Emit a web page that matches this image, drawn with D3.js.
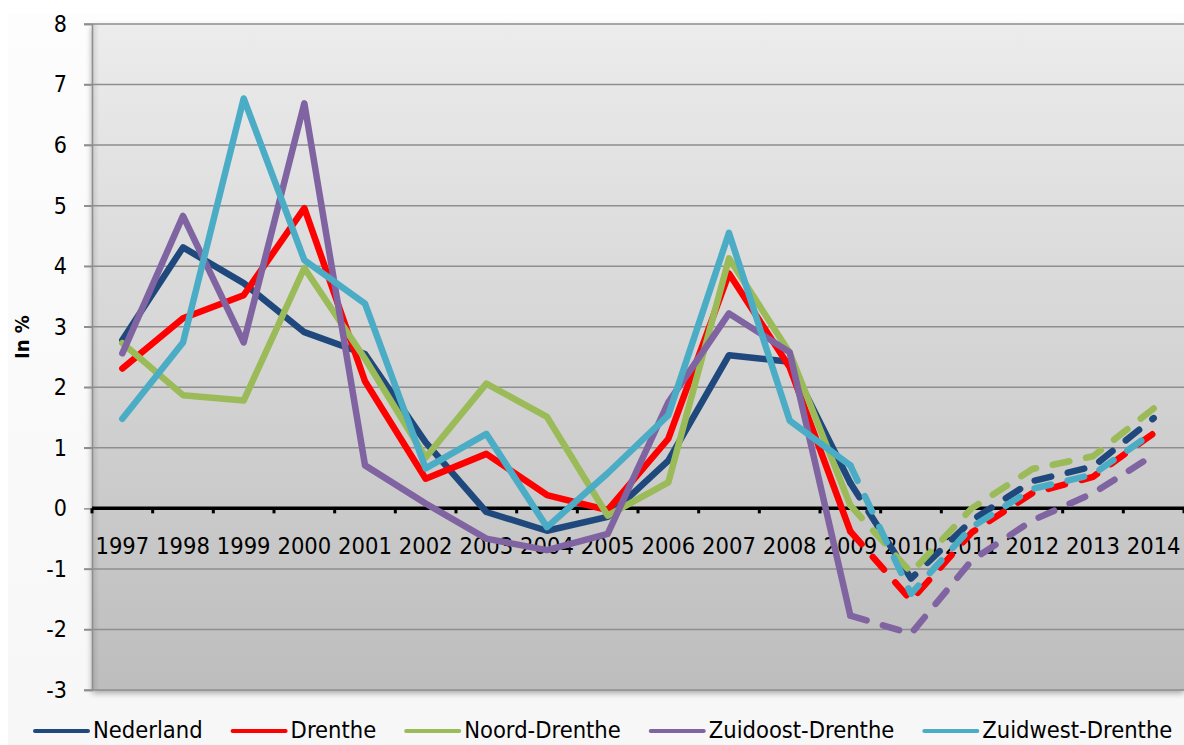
<!DOCTYPE html>
<html>
<head>
<meta charset="utf-8">
<script src="https://cdn.jsdelivr.net/npm/d3@7"></script>
<style>
  html, body { margin: 0; padding: 0; background: #fff; }
  svg { display: block; font-family: "DejaVu Sans Condensed", "DejaVu Sans", sans-serif; }
</style>
</head>
<body>
<svg id="chart"></svg>
<script>
// jaren op de x-as
const years = ["1997", "1998", "1999", "2000", "2001", "2002", "2003", "2004", "2005",
  "2006", "2007", "2008", "2009", "2010", "2011", "2012", "2013", "2014"];
// vanaf dit jaar wordt de lijn gestippeld (prognose)
const forecastFrom = "2009";

const nederland = [2.78, 4.31, 3.72, 2.91, 2.55, 1.09, -0.06, -0.37, -0.14, 0.79, 2.53, 2.42, 0.42, -1.16, -0.2, 0.45, 0.69, 1.49];
const drenthe = [2.31, 3.14, 3.52, 4.96, 2.1, 0.49, 0.9, 0.22, -0.03, 1.15, 3.88, 2.33, -0.38, -1.52, -0.4, 0.25, 0.52, 1.24];
const noordDrenthe = [2.73, 1.87, 1.78, 3.97, 2.47, 0.84, 2.06, 1.51, -0.12, 0.43, 4.13, 2.57, 0.05, -1.06, 0.0, 0.65, 0.86, 1.65];
const zuidoostDrenthe = [2.56, 4.83, 2.74, 6.69, 0.71, 0.08, -0.5, -0.69, -0.42, 1.75, 3.22, 2.58, -1.77, -2.07, -0.86, -0.2, 0.25, 0.88];
const zuidwestDrenthe = [1.48, 2.74, 6.77, 4.1, 3.38, 0.66, 1.23, -0.31, 0.58, 1.54, 4.55, 1.45, 0.71, -1.41, -0.31, 0.32, 0.56, 1.26];

const seriesNames = ["Nederland", "Drenthe", "Noord-Drenthe", "Zuidoost-Drenthe", "Zuidwest-Drenthe"];
const seriesValues = [nederland, drenthe, noordDrenthe, zuidoostDrenthe, zuidwestDrenthe];
const seriesColors = ["#1f497d", "#ff0000", "#9bbb59", "#8064a2", "#4bacc6"];

const yTicks = [-3, -2, -1, 0, 1, 2, 3, 4, 5, 6, 7, 8];

const width = 1184, height = 745;
const margin = {top: 24, right: 0, bottom: 55, left: 92};
const font = "'DejaVu Sans Condensed', 'DejaVu Sans', sans-serif";

const svg = d3.select("#chart")
  .attr("width", width)
  .attr("height", height);

const defs = svg.append("defs");
const bg = defs.append("linearGradient")
  .attr("id", "plotbg").attr("x1", 0).attr("y1", 0).attr("x2", 0).attr("y2", 1);
bg.append("stop").attr("offset", "0%").attr("stop-color", "#ececec");
bg.append("stop").attr("offset", "100%").attr("stop-color", "#bdbdbd");

const leftShade = defs.append("linearGradient")
  .attr("id", "leftshade").attr("x1", 0).attr("y1", 0).attr("x2", 1).attr("y2", 0);
leftShade.append("stop").attr("offset", "0%").attr("stop-color", "#000").attr("stop-opacity", 0.12);
leftShade.append("stop").attr("offset", "100%").attr("stop-color", "#000").attr("stop-opacity", 0);

const outerBg = defs.append("linearGradient")
  .attr("id", "outerbg").attr("x1", 0).attr("y1", 0).attr("x2", 0).attr("y2", 1);
outerBg.append("stop").attr("offset", "0%").attr("stop-color", "#fdfdfd");
outerBg.append("stop").attr("offset", "100%").attr("stop-color", "#f7f7f7");

const shadow = defs.append("filter").attr("id", "shadow")
  .attr("x", "-5%").attr("y", "-5%").attr("width", "110%").attr("height", "110%");
shadow.append("feDropShadow")
  .attr("dx", 0).attr("dy", 3).attr("stdDeviation", 3)
  .attr("flood-color", "#000").attr("flood-opacity", 0.35);

svg.append("rect")
  .attr("x", 8).attr("y", 14).attr("width", width - 8).attr("height", height - 14)
  .attr("fill", "url(#outerbg)");

const x = d3.scaleBand()
  .domain(years)
  .range([margin.left, width - margin.right])
  .padding(0);

const y = d3.scaleLinear()
  .domain([-3, 8])
  .range([height - margin.bottom, margin.top]);

const cx = d => x(d) + x.bandwidth() / 2;

// plotvlak
svg.append("rect")
  .attr("x", margin.left)
  .attr("y", y(8))
  .attr("width", width - margin.left - margin.right)
  .attr("height", y(-3) - y(8))
  .attr("fill", "url(#plotbg)")
  .attr("filter", "url(#shadow)");

svg.append("rect")
  .attr("x", margin.left)
  .attr("y", y(8))
  .attr("width", 7)
  .attr("height", y(-3) - y(8))
  .attr("fill", "url(#leftshade)");

// rasterlijnen
svg.append("g")
  .selectAll("line")
  .data(yTicks.filter(d => d !== 0))
  .join("line")
  .attr("x1", margin.left - 8)
  .attr("x2", width - margin.right)
  .attr("y1", d => y(d))
  .attr("y2", d => y(d))
  .attr("stroke", "#8e8e8e")
  .attr("stroke-width", 1.5);

// y-as
svg.append("g")
  .attr("transform", `translate(${margin.left},0)`)
  .call(d3.axisLeft(y).tickValues(yTicks).tickSize(8).tickPadding(17).tickFormat(d => String(d)))
  .call(g => g.select(".domain").attr("stroke", "#8e8e8e").attr("stroke-width", 1.5))
  .call(g => g.selectAll(".tick line").attr("stroke", "#8e8e8e").attr("stroke-width", 1.5))
  .call(g => g.selectAll(".tick text")
    .attr("font-size", 23)
    .attr("fill", "#000")
    .attr("font-family", font));

svg.append("text")
  .attr("transform", `translate(29,${(y(8) + y(-3)) / 2 - 20}) rotate(-90)`)
  .attr("text-anchor", "middle")
  .attr("font-size", 20)
  .attr("font-weight", "bold")
  .text("In %");

// nul-lijn met jaartallen
svg.append("g")
  .attr("transform", `translate(0,${y(0)})`)
  .call(d3.axisBottom(x).tickSize(0).tickPadding(29))
  .call(g => g.select(".domain").remove())
  .call(g => g.selectAll(".tick text")
    .attr("font-size", 23.5)
    .attr("fill", "#000")
    .attr("font-family", font));

svg.append("g")
  .selectAll("line")
  .data(d3.range(years.length + 1))
  .join("line")
  .attr("x1", i => margin.left + i * x.step())
  .attr("x2", i => margin.left + i * x.step())
  .attr("y1", y(0))
  .attr("y2", y(0) + 5)
  .attr("stroke", "#000")
  .attr("stroke-width", 3);

svg.append("line")
  .attr("x1", margin.left)
  .attr("x2", width - margin.right)
  .attr("y1", y(0))
  .attr("y2", y(0))
  .attr("stroke", "#000")
  .attr("stroke-width", 3.5);

// lijnen: doorgetrokken tot forecastFrom, daarna gestippeld
const line = d3.line()
  .x(d => cx(d.year))
  .y(d => y(d.value));

const split = years.indexOf(forecastFrom);

const lines = svg.append("g")
  .attr("fill", "none")
  .attr("stroke-width", 6.5)
  .attr("stroke-linejoin", "round")
  .attr("stroke-linecap", "round");

seriesNames.forEach((name, i) => {
  const pts = years.map((year, j) => ({year, value: seriesValues[i][j]}));
  const g = lines.append("g").attr("stroke", seriesColors[i]);
  g.append("path").attr("d", line(pts.slice(0, split + 1)));
  g.append("path")
    .attr("d", line(pts.slice(split)))
    .attr("stroke-dasharray", "17,17");
});

// legenda
const legend = svg.append("g")
  .attr("font-size", 23.5)
  .attr("font-family", font);

let lx = 35;
const ly = 731;
seriesNames.forEach((name, i) => {
  legend.append("line")
    .attr("x1", lx).attr("x2", lx + 53)
    .attr("y1", ly).attr("y2", ly)
    .attr("stroke", seriesColors[i])
    .attr("stroke-width", 4)
    .attr("stroke-linecap", "round");
  const t = legend.append("text")
    .attr("x", lx + 58)
    .attr("y", ly + 7)
    .attr("fill", "#000")
    .text(name);
  lx += 58 + t.node().getComputedTextLength() + 30;
});
</script>
</body>
</html>
